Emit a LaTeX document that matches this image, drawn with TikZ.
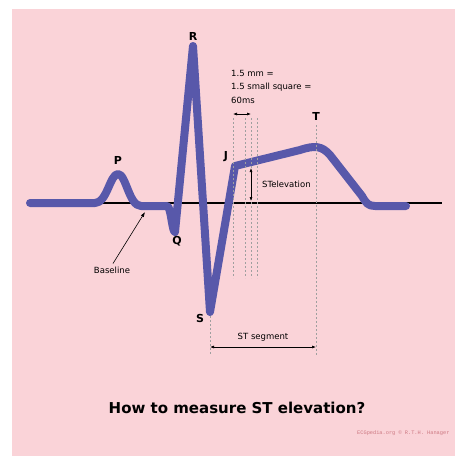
\documentclass[tikz,border=0pt]{standalone}
\usepackage{fontspec}
\setmainfont{DejaVu Sans}
\setmonofont{Liberation Mono}
\usetikzlibrary{arrows.meta}
\definecolor{ecgpink}{RGB}{250,211,216}
\definecolor{ecgblue}{RGB}{88,88,170}
\definecolor{creditred}{RGB}{205,120,130}

\begin{document}
\begin{tikzpicture}[
    x=1pt, y=-1pt,
    wave/.style={draw=ecgblue, line width=8pt, line join=round, line cap=round},
    guide/.style={draw=gray!75, dash pattern=on 2pt off 2pt, line width=0.5pt},
    lbl/.style={font=\bfseries\fontsize{11}{11}\selectfont, inner sep=0pt},
    note/.style={font=\fontsize{8.5}{13.5}\selectfont, inner sep=0pt, align=left},
    measure/.style={{Latex[length=4pt,width=3pt]}-{Latex[length=4pt,width=3pt]}, line width=0.6pt}
  ]
    \useasboundingbox (0,0) rectangle (455,456);
    \fill[white] (0,0) rectangle (455,456);
    \fill[ecgpink] (12,9) rectangle (455,456);

    % baseline and trace
    \coordinate (bl1) at (28,203);
    \coordinate (bl2) at (442,203);
    \draw[line width=1.2pt] (bl1) -- (bl2);
    \draw[wave] (30,203) -- (95,203)
      .. controls (107,203) and (110,174) .. (118,174)
      .. controls (126,174) and (129,206) .. (141,206) -- (167,206)
      .. controls (171,206) and (172,232) .. (175,232)
      -- (193,46) -- (210,312) -- (235,166) -- (300,150)
      .. controls (315,145) and (322,146) .. (330,155) -- (362,196)
      .. controls (366,203) and (368,206) .. (375,206) -- (406,206);

    % wave labels
    \node[lbl] (P) at (118,160) {P};
    \node[lbl] (Q) at (177,241) {Q};
    \node[lbl] (R) at (193,36)  {R};
    \node[lbl] (S) at (200,318) {S};
    \node[lbl] (J) at (226,157) {J};
    \node[lbl] (T) at (316,116) {T};

    % guide lines
    \coordinate (s1) at (210,316);
    \coordinate (s2) at (210,355);
    \coordinate (t1) at (316,125);
    \coordinate (t2) at (316,355);
    \draw[guide] (s1) -- (s2);
    \draw[guide] (t1) -- (t2);
    \foreach \gx in {233,245,251,257}
      \draw[guide] (\gx,118) -- (\gx,278);

    % measurements
    \node[note, anchor=north west] (mm) at (231,70) {1.5 mm =\\1.5 small square =\\60ms};
    \coordinate (m1) at (233,114);
    \coordinate (m2) at (251,114);
    \draw[measure] (m1) -- (m2);

    \coordinate (e1) at (251,168);
    \coordinate (e2) at (251,201);
    \draw[measure] (e1) -- (e2);
    \node[note, anchor=west] (elev) at (262,184) {STelevation};

    \coordinate (g1) at (210,347);
    \coordinate (g2) at (316,347);
    \draw[measure] (g1) -- (g2);
    \node[note] (seg) at (263,337) {ST segment};

    \node[note] (base) at (112,270) {Baseline};
    \coordinate (btip) at (145,212);
    \draw[-{Latex[length=5pt,width=3.5pt]}, line width=0.6pt] (base.north) ++(1,-3) -- (btip);

    % title and credit
    \node[font=\bfseries\fontsize{15}{15}\selectfont] (title) at (237,408) {How to measure ST elevation?};
    \node[font=\ttfamily\fontsize{5.3}{6}\selectfont, text=creditred, anchor=east] (credit) at (453,433) {ECGpedia.org © R.T.H. Hanager};
  \end{tikzpicture}
\end{document}
